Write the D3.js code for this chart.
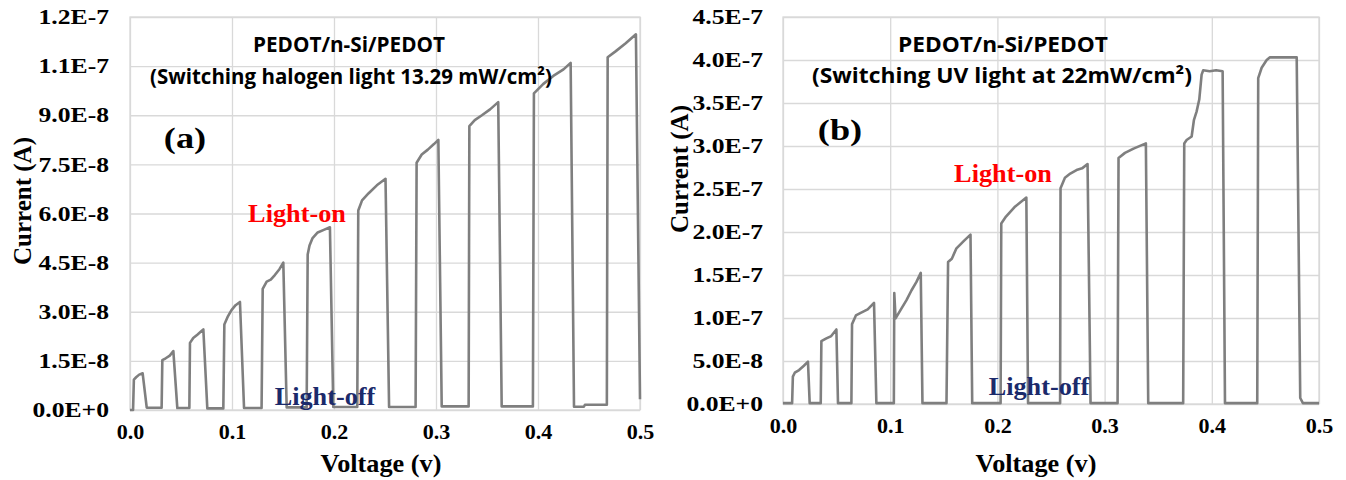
<!DOCTYPE html>
<html>
<head>
<meta charset="utf-8">
<script src="https://cdn.jsdelivr.net/npm/d3@7"></script>
<style>
  body { margin: 0; background: #fff; }
  svg { display: block; }
</style>
</head>
<body>
<svg id="chart" width="1346" height="480"></svg>
<script>
// ---- Panel (a): PEDOT/n-Si/PEDOT under switched halogen light ----
const voltageA = [
  0.0000, 0.0030, 0.0038, 0.0060, 0.0090, 0.0124, 0.0164, 0.0310,
  0.0317, 0.0350, 0.0390, 0.0425, 0.0464, 0.0582,
  0.0588, 0.0620, 0.0660, 0.0690, 0.0719, 0.0758, 0.0915,
  0.0925, 0.0960, 0.0995, 0.1035, 0.1078, 0.1118, 0.1290,
  0.1301, 0.1340, 0.1380, 0.1420, 0.1465, 0.1503, 0.1536, 0.1732,
  0.1742, 0.1760, 0.1790, 0.1840, 0.1900, 0.1960, 0.1993, 0.2228,
  0.2238, 0.2275, 0.2340, 0.2420, 0.2505, 0.2540, 0.2800,
  0.2810, 0.2860, 0.2920, 0.2980, 0.3023, 0.3056, 0.3320,
  0.3327, 0.3380, 0.3450, 0.3530, 0.3610, 0.3644, 0.3950,
  0.3960, 0.4050, 0.4150, 0.4250, 0.4320, 0.4353, 0.4450, 0.4460, 0.4675,
  0.4683, 0.4760, 0.4860, 0.4960, 0.5000
];
const currentA = [
  0, 0, 9.3e-9, 1.0e-8, 1.08e-8, 1.12e-8, 7e-10, 7e-10,
  1.52e-8, 1.58e-8, 1.66e-8, 1.8e-8, 6e-10, 6e-10,
  2.05e-8, 2.2e-8, 2.3e-8, 2.38e-8, 2.46e-8, 5e-10, 5e-10,
  2.61e-8, 2.86e-8, 3.05e-8, 3.2e-8, 3.3e-8, 6e-10, 6e-10,
  3.7e-8, 3.92e-8, 3.98e-8, 4.12e-8, 4.3e-8, 4.5e-8, 8e-10, 8e-10,
  4.75e-8, 5.02e-8, 5.25e-8, 5.42e-8, 5.5e-8, 5.58e-8, 9e-10, 9e-10,
  6.09e-8, 6.4e-8, 6.62e-8, 6.86e-8, 7.06e-8, 9e-10, 9e-10,
  7.55e-8, 7.8e-8, 7.95e-8, 8.12e-8, 8.25e-8, 1.1e-9, 1.1e-9,
  8.67e-8, 8.85e-8, 9.0e-8, 9.18e-8, 9.4e-8, 1.1e-9, 1.1e-9,
  9.67e-8, 9.95e-8, 1.02e-7, 1.04e-7, 1.06e-7, 1.0e-9, 1.0e-9, 1.6e-9, 1.6e-9,
  1.077e-7, 1.095e-7, 1.12e-7, 1.147e-7, 3.3e-9
];
const currentTicksA = [0, 1.5e-8, 3.0e-8, 4.5e-8, 6.0e-8, 7.5e-8, 9.0e-8, 1.05e-7, 1.2e-7];
const currentTickLabelsA = ["0.0E+0", "1.5E-8", "3.0E-8", "4.5E-8", "6.0E-8", "7.5E-8", "9.0E-8", "1.1E-7", "1.2E-7"];
const titleLinesA = ["PEDOT/n-Si/PEDOT", "(Switching halogen light 13.29 mW/cm²)"];

// ---- Panel (b): PEDOT/n-Si/PEDOT under switched UV light ----
const voltageB = [
  0.0000, 0.0085, 0.0092, 0.0110, 0.0150, 0.0195, 0.0233, 0.0249, 0.0352,
  0.0358, 0.0400, 0.0450, 0.0498, 0.0513, 0.0638,
  0.0644, 0.0680, 0.0725, 0.0790, 0.0849, 0.0871, 0.1034,
  0.1038, 0.1050, 0.1100, 0.1152, 0.1198, 0.1245, 0.1285, 0.1301, 0.1525,
  0.1540, 0.1575, 0.1618, 0.1690, 0.1749, 0.1765, 0.2030,
  0.2036, 0.2080, 0.2160, 0.2270, 0.2286, 0.2585,
  0.2589, 0.2630, 0.2680, 0.2738, 0.2790, 0.2841, 0.2869, 0.3121,
  0.3130, 0.3190, 0.3270, 0.3385, 0.3407, 0.3733,
  0.3743, 0.3765, 0.3812, 0.3833, 0.3858, 0.3883, 0.3905, 0.3920, 0.3980, 0.4040, 0.4101, 0.4123, 0.4424,
  0.4433, 0.4465, 0.4512, 0.4540, 0.4650, 0.4792, 0.4825, 0.4850, 0.5000
];
const currentB = [
  1e-9, 1e-9, 3.18e-8, 3.64e-8, 3.95e-8, 4.45e-8, 4.92e-8, 1e-9, 1e-9,
  7.32e-8, 7.6e-8, 7.9e-8, 8.67e-8, 1e-9, 1e-9,
  9.29e-8, 1.03e-7, 1.06e-7, 1.1e-7, 1.176e-7, 1e-9, 1e-9,
  1.29e-7, 9.95e-8, 1.1e-7, 1.208e-7, 1.32e-7, 1.42e-7, 1.524e-7, 1e-9, 1e-9,
  1.652e-7, 1.69e-7, 1.81e-7, 1.9e-7, 1.97e-7, 1e-9, 1e-9,
  2.1e-7, 2.18e-7, 2.29e-7, 2.4e-7, 1e-9, 1e-9,
  2.51e-7, 2.63e-7, 2.68e-7, 2.72e-7, 2.74e-7, 2.79e-7, 1e-9, 1e-9,
  2.86e-7, 2.92e-7, 2.97e-7, 3.03e-7, 1e-9, 1e-9,
  3.03e-7, 3.07e-7, 3.11e-7, 3.3e-7, 3.4e-7, 3.54e-7, 3.83e-7, 3.88e-7, 3.87e-7, 3.88e-7, 3.87e-7, 1e-9, 1e-9,
  3.79e-7, 3.91e-7, 4.0e-7, 4.03e-7, 4.03e-7, 4.03e-7, 7e-9, 1e-9, 1e-9
];
const currentTicksB = [0, 5e-8, 1e-7, 1.5e-7, 2e-7, 2.5e-7, 3e-7, 3.5e-7, 4e-7, 4.5e-7];
const currentTickLabelsB = ["0.0E+0", "5.0E-8", "1.0E-7", "1.5E-7", "2.0E-7", "2.5E-7", "3.0E-7", "3.5E-7", "4.0E-7", "4.5E-7"];
const titleLinesB = ["PEDOT/n-Si/PEDOT", "(Switching UV light at 22mW/cm²)"];

// ---- Shared axis ----
const voltageTicks = [0, 0.1, 0.2, 0.3, 0.4, 0.5];
const voltageTickLabels = ["0.0", "0.1", "0.2", "0.3", "0.4", "0.5"];
const xAxisTitle = "Voltage (v)";
const yAxisTitle = "Current (A)";
const onLabel = "Light-on";
const offLabel = "Light-off";

const SERIF = '"Liberation Serif", "Times New Roman", serif';
const SANS = '"Open Sans", "Noto Sans", sans-serif';
const GRID = "#d9d9d9";
const TRACE = "#7f7f7f";

const svg = d3.select("#chart");

// widen a text node horizontally by a factor, keeping its anchor
function stretch(sel, k) {
  sel.each(function () {
    const len = this.getComputedTextLength();
    d3.select(this).attr("textLength", len * k).attr("lengthAdjust", "spacingAndGlyphs");
  });
}

function addText(g, str, x, y, o) {
  const t = g.append("text")
    .attr("x", x).attr("y", y)
    .attr("text-anchor", o.anchor || "middle")
    .attr("font-family", o.family || SERIF)
    .attr("font-weight", "bold")
    .attr("font-size", o.size)
    .attr("fill", o.fill || "#000")
    .text(str);
  if (o.rotate) t.attr("transform", `rotate(-90 ${x} ${y})`);
  if (o.width) t.attr("textLength", o.width).attr("lengthAdjust", "spacingAndGlyphs");
  else if (o.k) stretch(t, o.k);
  return t;
}

function drawPanel(p) {
  const g = svg.append("g");
  const x = d3.scaleLinear().domain([0, 0.5]).range([p.left, p.right]);
  const y = d3.scaleLinear().domain([0, p.yMax]).range([p.bottom, p.top]);

  // horizontal gridlines + current tick labels
  const yAxis = d3.axisLeft(y)
    .tickValues(p.yTicks)
    .tickFormat((d, i) => p.yLabels[i])
    .tickSize(-(p.right - p.left))
    .tickPadding(p.yPad);
  const ya = g.append("g").attr("transform", `translate(${p.left},0)`).call(yAxis);

  // vertical gridlines + voltage tick labels
  const xAxis = d3.axisBottom(x)
    .tickValues(voltageTicks)
    .tickFormat((d, i) => voltageTickLabels[i])
    .tickSize(-(p.bottom - p.top))
    .tickPadding(p.xPad);
  const xa = g.append("g").attr("transform", `translate(0,${p.bottom})`).call(xAxis);

  [ya, xa].forEach(a => {
    a.select(".domain").remove();
    a.selectAll(".tick line").attr("stroke", GRID).attr("stroke-width", 1.3);
    a.selectAll(".tick text")
      .attr("font-family", SERIF)
      .attr("font-weight", "bold")
      .attr("font-size", p.tickSize)
      .attr("fill", "#000");
  });
  stretch(ya.selectAll(".tick text"), 1.22);
  stretch(xa.selectAll(".tick text"), 1.05);

  // plot frame
  g.append("rect")
    .attr("x", p.left).attr("y", p.top)
    .attr("width", p.right - p.left).attr("height", p.bottom - p.top)
    .attr("fill", "none").attr("stroke", GRID).attr("stroke-width", 1.3);

  // current trace
  const pts = p.v.map((v, i) => [v, p.i[i]]);
  g.append("path")
    .datum(pts)
    .attr("fill", "none")
    .attr("stroke", TRACE)
    .attr("stroke-width", 2.6)
    .attr("stroke-linejoin", "round")
    .attr("d", d3.line().x(d => x(d[0])).y(d => y(d[1])));

  // axis titles
  addText(g, xAxisTitle, p.xTitle[0], p.xTitle[1], { size: 25, k: 1.05 });
  addText(g, yAxisTitle, p.yTitle[0], p.yTitle[1], { size: 25, rotate: true });

  // chart title
  addText(g, p.titles[0], p.t1[0], p.t1[1], { size: 21, family: SANS, width: p.t1[2] });
  addText(g, p.titles[1], p.t2[0], p.t2[1], { size: 21, family: SANS, width: p.t2[2] });

  // annotations
  addText(g, p.tag, p.tagPos[0], p.tagPos[1], { size: 29, k: 1.25 });
  addText(g, onLabel, p.onPos[0], p.onPos[1], { size: 25, fill: "#ff0000", k: 1.05 });
  addText(g, offLabel, p.offPos[0], p.offPos[1], { size: 25, fill: "#1b2a6b", k: 1.05 });
}

drawPanel({
  left: 130, right: 640, top: 17, bottom: 410,
  yMax: 1.2e-7, yTicks: currentTicksA, yLabels: currentTickLabelsA,
  v: voltageA, i: currentA,
  tickSize: 21, yPad: 21, xPad: 14,
  xTitle: [381, 472], yTitle: [31, 201],
  titles: titleLinesA, t1: [349, 52, 192], t2: [351, 84, 402],
  tag: "(a)", tagPos: [185, 148],
  onPos: [297, 222], offPos: [325, 405]
});

drawPanel({
  left: 783, right: 1319, top: 17, bottom: 404,
  yMax: 4.5e-7, yTicks: currentTicksB, yLabels: currentTickLabelsB,
  v: voltageB, i: currentB,
  tickSize: 21, yPad: 20, xPad: 14,
  xTitle: [1036, 472], yTitle: [688, 169],
  titles: titleLinesB, t1: [1003, 52, 210], t2: [1002, 83, 380],
  tag: "(b)", tagPos: [840, 140],
  onPos: [1003, 182], offPos: [1039, 395]
});
</script>
</body>
</html>
